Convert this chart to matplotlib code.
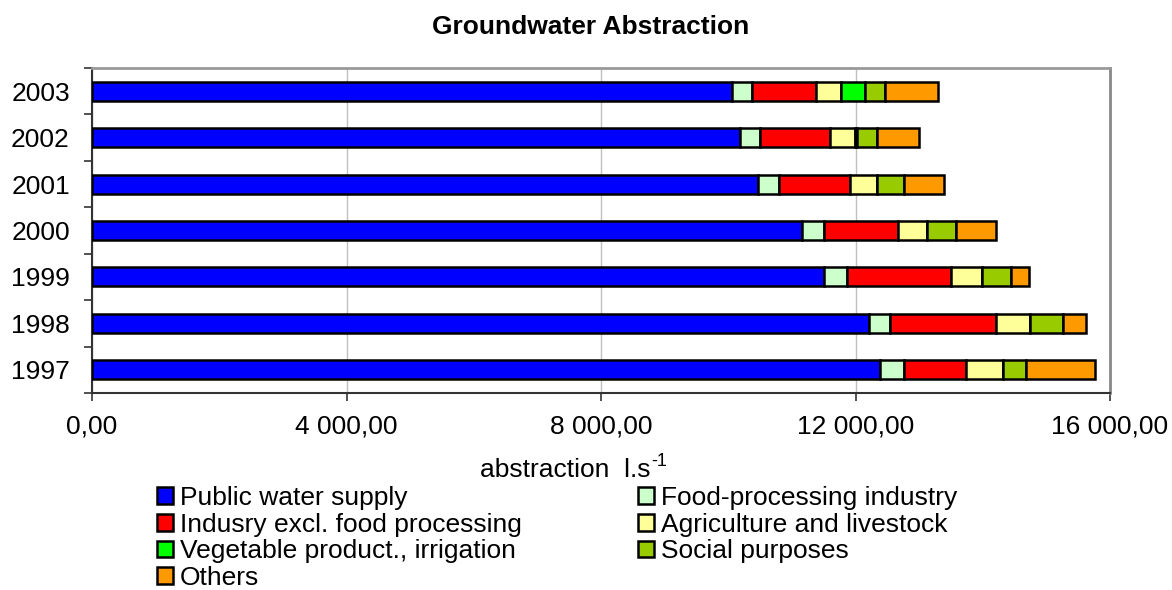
import numpy as np
import matplotlib
matplotlib.use("Agg")
import matplotlib.pyplot as plt
from matplotlib.ticker import FuncFormatter, FixedLocator
from matplotlib.patches import Patch

plt.rcParams['font.family'] = ['Liberation Sans', 'DejaVu Sans']

years = ['1997', '1998', '1999', '2000', '2001', '2002', '2003']
public = [12390, 12207, 11504, 11165, 10474, 10185, 10060]
food = [367, 330, 362, 335, 323, 309, 320]
industry = [984, 1676, 1640, 1167, 1122, 1100, 1005]
agri = [575, 534, 487, 462, 424, 393, 382]
veg = [0, 0, 0, 0, 0, 30, 377]
social = [357, 512, 456, 444, 418, 326, 325]
others = [1095, 368, 276, 629, 629, 655, 827]

series = [
    ("Public water supply", public, "#0000ff"),
    ("Food-processing industry", food, "#ccffcc"),
    ("Indusry excl. food processing", industry, "#ff0000"),
    ("Agriculture and livestock", agri, "#ffff99"),
    ("Vegetable product., irrigation", veg, "#00ff00"),
    ("Social purposes", social, "#99cc00"),
    ("Others", others, "#ff9900"),
]

W, H = 1172, 590
fig = plt.figure(figsize=(W / 100, H / 100), dpi=100)
ax = fig.add_axes([92 / W, 1 - 393 / H, (1110 - 92) / W, (393 - 68) / H])

y = np.arange(len(years))
left = np.zeros(len(years))
for name, vals, col in series:
    vals = np.array(vals, float)
    ax.barh(y, vals, left=left, height=0.41, color=col, edgecolor='black',
            linewidth=1.8, zorder=3)
    left += vals

ax.set_xlim(0, 16000)
ax.set_ylim(-0.5, len(years) - 0.5)
ax.set_xticks([0, 4000, 8000, 12000, 16000])
ax.xaxis.set_major_formatter(FuncFormatter(
    lambda v, p: f"{v:,.2f}".replace(',', ' ').replace('.', ',')))
ax.set_yticks(y)
ax.set_yticklabels(years)
ax.yaxis.set_minor_locator(FixedLocator(np.arange(-0.5, len(years), 1.0)))
ax.tick_params(axis='y', which='major', length=0, labelsize=19, pad=16)
ax.tick_params(axis='y', which='minor', length=5.8, width=1.2, color='#333333')
ax.tick_params(axis='x', which='major', length=5.8, width=1.2, color='#333333',
               labelsize=19, pad=10)
ax.grid(axis='x', color='#c0c0c0', linewidth=1, zorder=0)

ax.spines['left'].set_color('#333333')
ax.spines['bottom'].set_color('#333333')
ax.spines['left'].set_linewidth(1.5)
ax.spines['bottom'].set_linewidth(1.5)
ax.spines['top'].set_color('#999999')
ax.spines['top'].set_linewidth(2)
ax.spines['right'].set_color('#888888')
ax.spines['right'].set_linewidth(2)

fig.text(591 / W, 1 - 27 / H, "Groundwater Abstraction", ha='center',
         va='center', fontsize=19, fontweight='bold')

# axis title with a plain "-1" exponent
xl = fig.text(480 / W, 1 - 477 / H, "abstraction  l.s", ha='left',
              va='baseline', fontsize=19)
fig.canvas.draw()
bb = xl.get_window_extent()
fig.text((bb.x1 + 1) / W, 1 - 466 / H, "-1", ha='left', va='baseline',
         fontsize=13)

# legend filled column-wise: left column then right column
order = [0, 2, 4, 6, 1, 3, 5]
handles = [Patch(facecolor=series[i][2], edgecolor='black', linewidth=1.8)
           for i in order]
labels = [series[i][0] for i in order]
fig.legend(handles, labels, loc='upper left',
           bbox_to_anchor=(157 / W, 1 - 486 / H), ncol=2, frameon=False,
           fontsize=19, handlelength=0.6, handleheight=0.6, handletextpad=0.27,
           labelspacing=0.1, columnspacing=4.4, borderaxespad=0, borderpad=0)

fig.savefig("out.png", dpi=100)
